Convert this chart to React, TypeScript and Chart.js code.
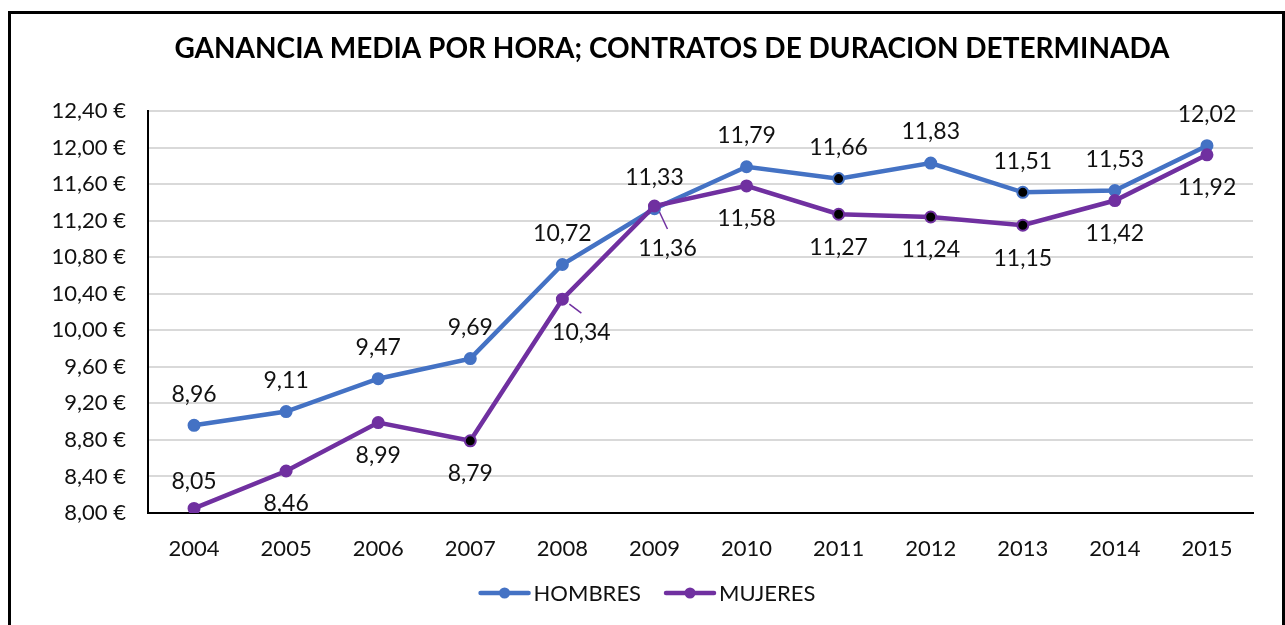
import React, { useEffect, useRef } from 'react';
import { Chart, registerables } from 'chart.js';

Chart.register(...registerables);

const years = ['2004', '2005', '2006', '2007', '2008', '2009', '2010', '2011', '2012', '2013', '2014', '2015'];
const hombres = [8.96, 9.11, 9.47, 9.69, 10.72, 11.33, 11.79, 11.66, 11.83, 11.51, 11.53, 12.02];
const mujeres = [8.05, 8.46, 8.99, 8.79, 10.34, 11.36, 11.58, 11.27, 11.24, 11.15, 11.42, 11.92];
const yTickValues = [8.0, 8.4, 8.8, 9.2, 9.6, 10.0, 10.4, 10.8, 11.2, 11.6, 12.0, 12.4];
const seriesNames = ['HOMBRES', 'MUJERES'];
const titleText = 'GANANCIA MEDIA POR HORA; CONTRATOS DE DURACION DETERMINADA';

// styling (kept apart from data)
const COLORS = ['#4472C4', '#7030A0'];
const darkMarkers = [[7, 9], [3, 7, 8, 9]];
const FONT = 'Lato, "Open Sans", sans-serif';
const TEXT = '#111';
// label placement: default dy per series, with a few overrides
const labelDy = [-31, 33];
const labelOverrides: Record<string, { dx: number; dy: number; leader?: number[] }> = {
  '1-0': { dx: 0, dy: -27 },
  '1-4': { dx: 19, dy: 33, leader: [7, 5, 19, 14] },
  '1-5': { dx: 13, dy: 43, leader: [5, 6, 13, 23] },
};

const fmt = (v: number) => v.toFixed(2).replace('.', ',');

const overlayPlugin = {
  id: 'overlay',
  afterDatasetsDraw(chart: any) {
    const ctx = chart.ctx;
    ctx.save();
    // data labels
    ctx.font = `23px ${FONT}`;
    ctx.fillStyle = TEXT;
    ctx.textAlign = 'center';
    ctx.textBaseline = 'middle';
    chart.data.datasets.forEach((ds: any, di: number) => {
      const meta = chart.getDatasetMeta(di);
      meta.data.forEach((pt: any, i: number) => {
        const ov = labelOverrides[`${di}-${i}`];
        const dx = ov ? ov.dx : 0;
        const dy = ov ? ov.dy : labelDy[di];
        if (ov && ov.leader) {
          ctx.strokeStyle = COLORS[di];
          ctx.lineWidth = 1.5;
          ctx.beginPath();
          ctx.moveTo(pt.x + ov.leader[0], pt.y + ov.leader[1]);
          ctx.lineTo(pt.x + ov.leader[2], pt.y + ov.leader[3]);
          ctx.stroke();
        }
        ctx.fillText(fmt(ds.data[i]), pt.x + dx, pt.y + dy);
      });
    });
    ctx.restore();
  },
  afterDraw(chart: any) {
    const ctx = chart.ctx;
    ctx.save();
    // title
    ctx.font = `bold 28px ${FONT}`;
    ctx.fillStyle = '#000';
    ctx.textAlign = 'center';
    ctx.textBaseline = 'middle';
    ctx.fillText(titleText, 672, 49);
    // legend
    ctx.font = `22px ${FONT}`;
    const lineLen = 48;
    const gapText = 5;
    const gapItems = 25;
    const widths = seriesNames.map((n) => lineLen + gapText + ctx.measureText(n).width);
    const total = widths.reduce((a, b) => a + b, 0) + gapItems * (seriesNames.length - 1);
    let x = 648 - total / 2;
    const y = 593;
    seriesNames.forEach((n, i) => {
      ctx.strokeStyle = COLORS[i];
      ctx.lineWidth = 4.5;
      ctx.lineCap = 'round';
      ctx.beginPath();
      ctx.moveTo(x, y);
      ctx.lineTo(x + lineLen, y);
      ctx.stroke();
      ctx.fillStyle = COLORS[i];
      ctx.beginPath();
      ctx.arc(x + lineLen / 2, y, 5.5, 0, Math.PI * 2);
      ctx.fill();
      ctx.fillStyle = TEXT;
      ctx.textAlign = 'left';
      ctx.fillText(n, x + lineLen + gapText, y + 1);
      x += widths[i] + gapItems;
    });
    ctx.restore();
  },
};

export default function App() {
  const ref = useRef<HTMLCanvasElement>(null);
  useEffect(() => {
    if (!ref.current) return;
    const series = [hombres, mujeres];
    const chart = new Chart(ref.current, {
      type: 'line',
      data: {
        labels: years,
        datasets: series.map((d, i) => ({
          label: seriesNames[i],
          data: d,
          borderColor: COLORS[i],
          backgroundColor: COLORS[i],
          borderWidth: 4.5,
          tension: 0,
          pointRadius: 5.5,
          pointHoverRadius: 5.5,
          pointBorderWidth: 2,
          pointBorderColor: COLORS[i],
          pointBackgroundColor: d.map((_, k) => (darkMarkers[i].includes(k) ? '#000' : COLORS[i])),
          order: 1 - i,
        })),
      },
      options: {
        responsive: false,
        animation: false,
        layout: { padding: { top: 111, left: 0, right: 32, bottom: 62 } },
        plugins: {
          legend: { display: false },
          title: { display: false },
          tooltip: { enabled: false },
        },
        scales: {
          x: {
            offset: true,
            grid: { display: false, drawTicks: false },
            border: { display: true, color: '#000', width: 2 },
            ticks: { color: TEXT, font: { family: FONT, size: 22 }, padding: 23, maxRotation: 0 },
            afterFit: (s: any) => {
              s.height = 50;
            },
          },
          y: {
            min: 8,
            max: 12.4,
            grid: { color: '#d9d9d9', lineWidth: 2, drawTicks: false },
            border: { display: true, color: '#000', width: 2 },
            afterBuildTicks: (s: any) => {
              s.ticks = yTickValues.map((v) => ({ value: v }));
            },
            ticks: {
              color: TEXT,
              font: { family: FONT, size: 22 },
              padding: 22,
              callback: (v: any) => `${fmt(Number(v))} €`,
            },
            afterFit: (s: any) => {
              s.width = 148;
            },
          },
        },
      },
      plugins: [overlayPlugin],
    });
    return () => chart.destroy();
  }, []);

  return (
    <>
      <div
        style={{
          position: 'fixed',
          left: 8,
          top: 11,
          width: 1277,
          height: 700,
          border: '3px solid #000',
          boxSizing: 'border-box',
        }}
      />
      <canvas
        ref={ref}
        width={1285}
        height={625}
        style={{ position: 'fixed', left: 0, top: 0, width: 1285, height: 625 }}
      />
    </>
  );
}
